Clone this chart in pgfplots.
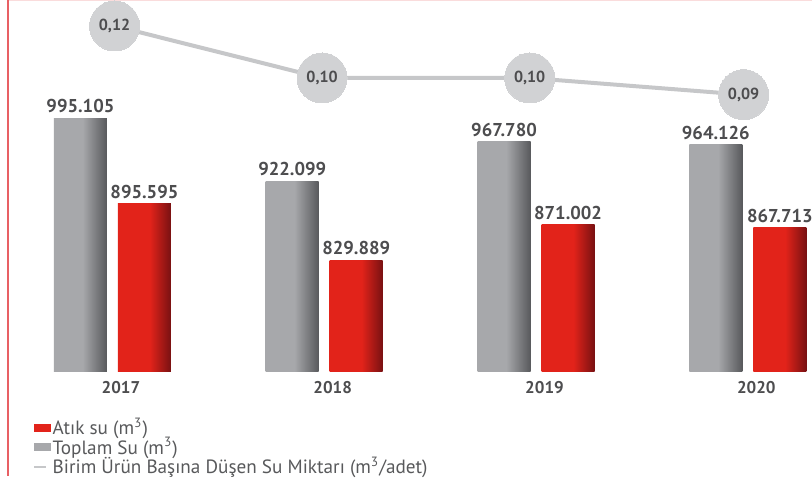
\documentclass[border=0pt]{standalone}
\usepackage{fontspec}
\setmainfont{PT Sans}
\usepackage{pgfplots}
\pgfplotsset{compat=1.18}

\definecolor{graylight}{RGB}{167,168,171}
\definecolor{graydark}{RGB}{88,89,92}
\definecolor{redlight}{RGB}{226,35,26}
\definecolor{reddark}{RGB}{120,17,18}
\definecolor{labelgray}{RGB}{77,77,79}
\definecolor{legendgray}{RGB}{88,89,91}
\definecolor{circgray}{RGB}{209,210,212}
\definecolor{linegray}{RGB}{198,199,201}
\definecolor{frame}{RGB}{232,96,100}
\definecolor{topline}{RGB}{250,220,220}

\pgfdeclarehorizontalshading{grayshade}{100bp}{color(0bp)=(graylight); color(25bp)=(graylight); color(52bp)=(graylight); color(75bp)=(graydark); color(100bp)=(graydark)}
\pgfdeclarehorizontalshading{redshade}{100bp}{color(0bp)=(redlight); color(25bp)=(redlight); color(55bp)=(redlight); color(75bp)=(reddark); color(100bp)=(reddark)}

\pgfplotsset{
  toplambar/.style={forget plot, draw=none, shading=grayshade, bar shift=-16pt},
  atikbar/.style={forget plot, draw=none, shading=redshade, bar shift=16pt},
}

\begin{document}
\begin{tikzpicture}
\path[use as bounding box] (0,0) rectangle (406pt,242.5pt);
\draw[topline, line width=0.6pt] (4pt,242.2pt) -- (406pt,242.2pt);
\draw[frame, line width=1pt] (4pt,242.5pt) -- (4pt,4.5pt);

\begin{axis}[
  at={(4pt,56.5pt)}, anchor=south west,
  scale only axis,
  width=402pt, height=186pt,
  xmin=-0.493, xmax=3.303,
  ymin=700000, ymax=1132600,
  axis line style={draw=none},
  ytick=\empty,
  xtick={0.04,1.04,2.04,3.04},
  xticklabels={\textbf{2017},\textbf{2018},\textbf{2019},\textbf{2020}},
  major tick length=0pt,
  xticklabel style={font=\fontsize{8.5}{10}\selectfont, text=labelgray, yshift=-1pt},
  ybar, bar width=26.5pt,
  point meta=explicit symbolic,
  nodes near coords,
  every node near coord/.append style={font=\fontsize{9.3}{11}\selectfont\bfseries, text=labelgray, yshift=-1pt},
  legend style={at={(0.031,-0.118)}, anchor=north west, draw=none, fill=none,
    font=\fontsize{9.6}{10}\selectfont, text=legendgray, row sep=-2.2pt,
    inner sep=0pt, nodes={inner sep=1pt}},
  legend cell align=left,
]
\addlegendimage{legend image code/.code={\fill[redlight] (0pt,-1.75pt) rectangle (8pt,1.75pt);}}
\addlegendentry{Atık su (m\textsuperscript{3})}
\addlegendimage{legend image code/.code={\fill[graylight] (0pt,-1.75pt) rectangle (8pt,1.75pt);}}
\addlegendentry{Toplam Su (m\textsuperscript{3})}
\addlegendimage{legend image code/.code={\draw[linegray, line width=1pt] (0pt,0pt) -- (6pt,0pt);}}
\addlegendentry{Birim Ürün Başına Düşen Su Miktarı (m\textsuperscript{3}/adet)}

% Toplam Su (m3)
\addplot[toplambar] coordinates {(0,995105) [995.105]};
\addplot[toplambar] coordinates {(1,922099) [922.099]};
\addplot[toplambar] coordinates {(2,967780) [967.780]};
\addplot[toplambar] coordinates {(3,964126) [964.126]};
% Atik su (m3)
\addplot[atikbar] coordinates {(0,895595) [895.595]};
\addplot[atikbar] coordinates {(1,829889) [829.889]};
\addplot[atikbar] coordinates {(2,871002) [871.002]};
\addplot[atikbar] coordinates {(3,867713) [867.713]};
\end{axis}

\begin{axis}[
  at={(4pt,56.5pt)}, anchor=south west,
  scale only axis,
  width=402pt, height=186pt,
  xmin=-0.493, xmax=3.303,
  ymin=-0.04135, ymax=0.1375,
  hide axis, clip=false,
]
\addplot[linegray, line width=2pt, mark=*, mark size=12.5pt,
  mark options={fill=circgray, draw=circgray, line width=0pt},
  point meta=explicit symbolic, nodes near coords,
  every node near coord/.append style={anchor=center, font=\fontsize{8}{9}\selectfont\bfseries, text=labelgray}]
  coordinates {(0.01,0.125) [0,12] (0.99,0.100) [0,10] (1.97,0.100) [0,10] (2.98,0.092) [0,09]};
\end{axis}
\end{tikzpicture}
\end{document}
